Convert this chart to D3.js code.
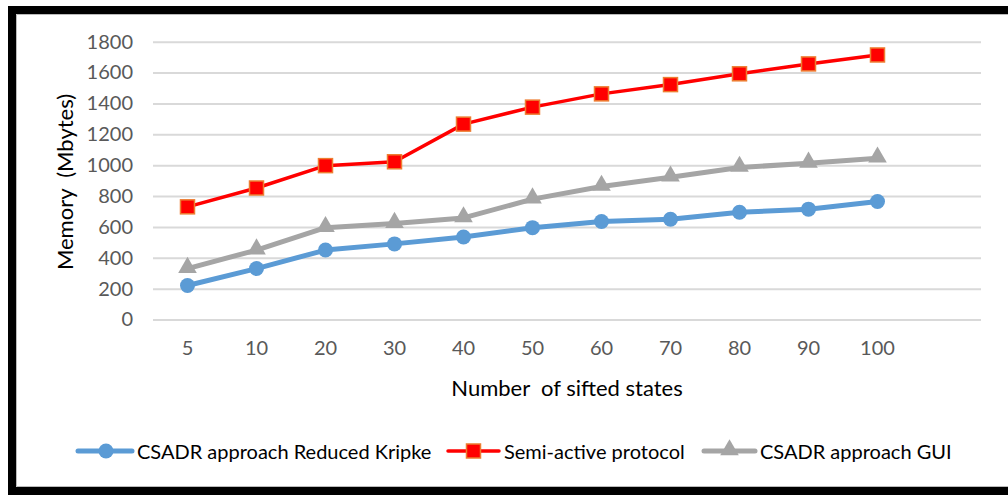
<!DOCTYPE html>
<html lang="en">
  <head>
    <meta charset="utf-8">
    <title>Memory vs sifted states</title>
    <script src="https://cdn.jsdelivr.net/npm/d3@7"></script>
    <style>
      body { margin: 0; background: #fff; }
      text { font-family: Lato, "Open Sans", sans-serif; white-space: pre; }
    </style>
  </head>
  <body>
    <script>

    var w = 1008;
    var h = 495;

    // data
    var categories = ["5", "10", "20", "30", "40", "50", "60", "70", "80", "90", "100"];
    var reducedKripke = [220, 330, 450, 490, 535, 595, 635, 650, 695, 715, 765];
    var semiActive = [730, 852, 997, 1022, 1266, 1376, 1462, 1522, 1592, 1656, 1714];
    var gui = [330, 450, 595, 622, 658, 780, 862, 922, 985, 1012, 1045];
    var yTicks = [0, 200, 400, 600, 800, 1000, 1200, 1400, 1600, 1800];

    var series = [
      { name: "CSADR approach Reduced Kripke", values: reducedKripke, color: "#5B9BD5", width: 5, marker: "circle" },
      { name: "Semi-active protocol", values: semiActive, color: "#FF0000", width: 3.5, marker: "square" },
      { name: "CSADR approach GUI", values: gui, color: "#A5A5A5", width: 5, marker: "triangle" }
    ];

    var plotLeft = 153, plotRight = 981, plotTop = 41.7, plotBottom = 319.5;

    // Excel left an empty slot after the last category
    var xScale = d3.scaleBand()
                   .domain(categories.concat([" "]))
                   .range([plotLeft, plotRight]);

    var yScale = d3.scaleLinear()
                   .domain([0, 1800])
                   .range([plotBottom, plotTop]);

    var svg = d3.select("body")
                .append("svg")
                .attr("width", w)
                .attr("height", h);

    svg.append("rect").attr("width", w).attr("height", h).attr("fill", "#fff");

    // frame
    svg.append("rect").attr("x", 8).attr("y", 6).attr("width", w - 8).attr("height", 8).attr("fill", "#000");
    svg.append("rect").attr("x", 8).attr("y", 6).attr("width", 8).attr("height", h - 6).attr("fill", "#000");
    svg.append("rect").attr("x", 8).attr("y", 487).attr("width", w - 8).attr("height", 8).attr("fill", "#000");
    svg.append("line").attr("x1", 16.5).attr("x2", w).attr("y1", 14.5).attr("y2", 14.5).attr("stroke", "#bbb");
    svg.append("line").attr("x1", 16.5).attr("x2", 16.5).attr("y1", 14.5).attr("y2", 486.5).attr("stroke", "#bbb");
    svg.append("line").attr("x1", 16.5).attr("x2", w).attr("y1", 486.5).attr("y2", 486.5).attr("stroke", "#bbb");

    // y axis with gridlines
    var yAxis = d3.axisLeft(yScale)
                  .tickValues(yTicks)
                  .tickSize(-(plotRight - plotLeft))
                  .tickPadding(20)
                  .tickFormat(d3.format("d"));

    var gy = svg.append("g")
                .attr("transform", "translate(" + plotLeft + ",0)")
                .call(yAxis);
    gy.select(".domain").remove();
    gy.selectAll(".tick line").attr("stroke", "#d9d9d9").attr("stroke-width", 2);
    gy.selectAll(".tick text")
      .attr("fill", "#595959")
      .attr("font-size", "20px")
      .attr("font-family", "Lato, sans-serif");

    // x axis labels only
    var xAxis = d3.axisBottom(xScale)
                  .tickSize(0)
                  .tickPadding(21);

    var gx = svg.append("g")
                .attr("transform", "translate(0," + plotBottom + ")")
                .call(xAxis);
    gx.select(".domain").remove();
    gx.selectAll(".tick text")
      .attr("fill", "#595959")
      .attr("font-size", "20px")
      .attr("font-family", "Lato, sans-serif");

    // axis titles
    svg.append("text")
       .attr("transform", "translate(67,182) rotate(-90)")
       .attr("text-anchor", "middle")
       .attr("dominant-baseline", "middle")
       .attr("font-size", "22px")
       .attr("fill", "#000")
       .text("Memory  (Mbytes)");

    svg.append("text")
       .attr("x", 567)
       .attr("y", 396)
       .attr("text-anchor", "middle")
       .attr("font-size", "22px")
       .attr("fill", "#000")
       .text("Number  of sifted states");

    function drawMarker(g, type, color, x, y) {
      if (type === "circle") {
        g.append("circle").attr("cx", x).attr("cy", y).attr("r", 7.5).attr("fill", color);
      } else if (type === "square") {
        g.append("rect").attr("x", x - 7).attr("y", y - 7).attr("width", 14).attr("height", 14)
         .attr("fill", color).attr("stroke", "#ED7D31").attr("stroke-width", 1.5);
      } else {
        g.append("path")
         .attr("d", d3.symbol().type(d3.symbolTriangle).size(150)())
         .attr("transform", "translate(" + x + "," + (y - 1) + ")")
         .attr("fill", color);
      }
    }

    var line = d3.line()
                 .x(function(d, i) { return xScale(categories[i]) + xScale.bandwidth() / 2; })
                 .y(function(d) { return yScale(d); });

    series.forEach(function(s) {
      var g = svg.append("g");
      g.append("path")
       .datum(s.values)
       .attr("d", line)
       .attr("fill", "none")
       .attr("stroke", s.color)
       .attr("stroke-width", s.width)
       .attr("stroke-linejoin", "round");
      s.values.forEach(function(v, i) {
        drawMarker(g, s.marker, s.color, xScale(categories[i]) + xScale.bandwidth() / 2, yScale(v));
      });
    });

    // legend
    var legendX = [78, 448, 704];
    var legendY = 451;
    series.forEach(function(s, i) {
      var g = svg.append("g");
      var x0 = legendX[i];
      var len = i === 0 ? 54 : 51;
      g.append("line")
       .attr("x1", x0).attr("x2", x0 + len)
       .attr("y1", legendY).attr("y2", legendY)
       .attr("stroke", s.color)
       .attr("stroke-width", s.width)
       .attr("stroke-linecap", "round");
      drawMarker(g, s.marker, s.color, x0 + len / 2 + (i === 0 ? 1 : 0), legendY);
      g.append("text")
       .attr("x", x0 + len + 5)
       .attr("y", legendY)
       .attr("dominant-baseline", "central")
       .attr("font-size", "20px")
       .attr("fill", "#000")
       .text(s.name);
    });

    </script>
  </body>
</html>
